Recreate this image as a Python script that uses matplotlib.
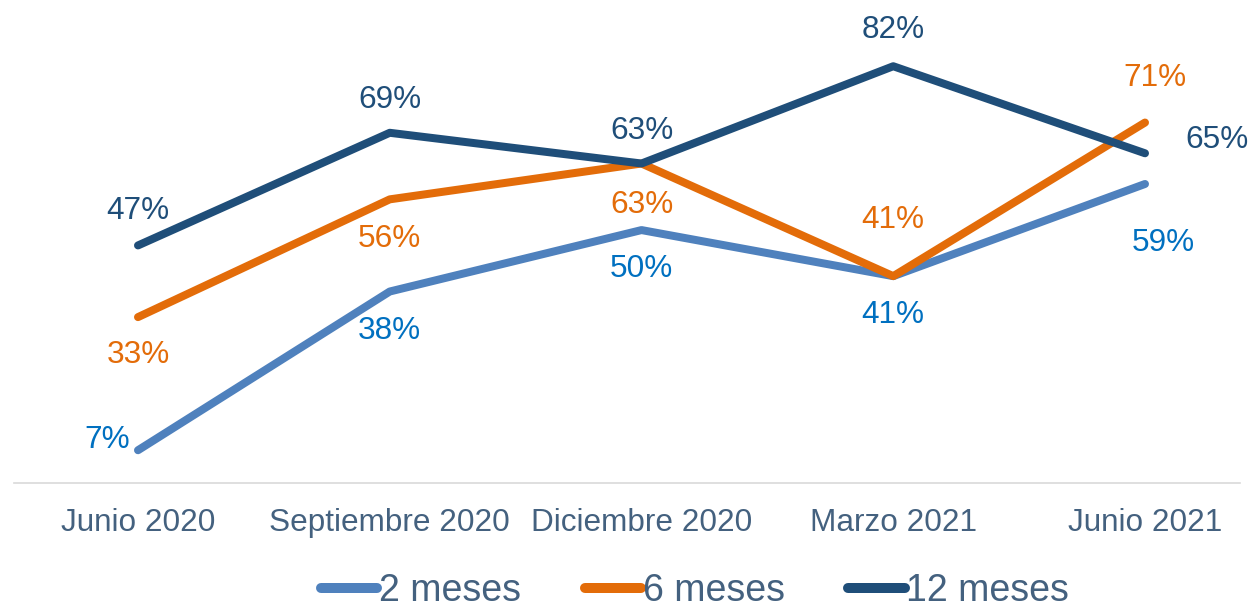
import matplotlib
matplotlib.use("Agg")
import matplotlib.pyplot as plt

categories = ["Junio 2020", "Septiembre 2020", "Diciembre 2020", "Marzo 2021", "Junio 2021"]
series_names = ["2 meses", "6 meses", "12 meses"]
v2 = [7, 38, 50, 41, 59]
v6 = [33, 56, 63, 41, 71]
v12 = [47, 69, 63, 82, 65]
values = [v2, v6, v12]

line_colors = ["#4F81BD", "#E36C09", "#1F4E79"]
label_colors = ["#0070C0", "#E36C09", "#1F4E79"]
text_color = "#44617F"

# label offsets in pixels (dx, dy) relative to point, y up
offsets = [
    [(-8, 10), (0, -39), (0, -39), (0, -39), (18, -59)],
    [(0, -38), (0, -40), (0, -41), (0, 56), (10, 45)],
    [(0, 34), (0, 33), (0, 33), (0, 36), (72, 13)],
]
has = [
    ["right", "center", "center", "center", "center"],
    ["center"] * 5,
    ["center"] * 5,
]

plt.rcParams["font.family"] = ["Liberation Sans", "DejaVu Sans"]

W, H = 1254, 612
fig = plt.figure(figsize=(W / 100, H / 100), dpi=100)
left_px, right_px = 14, 1240
bot_px = 483
top_px = 0
ax = fig.add_axes([left_px / W, (H - bot_px) / H, (right_px - left_px) / W, (bot_px - top_px) / H])

x = list(range(len(categories)))
spacing = (1145 - 138) / 4
ax.set_xlim(-(138 - left_px) / spacing, 4 + (right_px - 1145) / spacing)
ppu = 5.12
ax.set_ylim(0.6, 0.6 + (bot_px - top_px) / ppu)

lw = 8 * 0.72
for i, (name, vals) in enumerate(zip(series_names, values)):
    ax.plot(x, vals, color=line_colors[i], lw=lw, solid_capstyle="round",
            solid_joinstyle="round", label=name, zorder=2 + i)
    for j, v in enumerate(vals):
        dx, dy = offsets[i][j]
        ax.annotate(f"{v}%", (x[j], v), xytext=(dx * 0.72, dy * 0.72),
                    textcoords="offset points", ha=has[i][j], va="center",
                    fontsize=22.7, color=label_colors[i], zorder=10)

for s in ["top", "right", "left"]:
    ax.spines[s].set_visible(False)
ax.spines["bottom"].set_color("#D9D9D9")
ax.spines["bottom"].set_linewidth(1.2)
ax.set_yticks([])
ax.set_xticks(x)
ax.set_xticklabels(categories, fontsize=22.7, color=text_color)
ax.tick_params(axis="x", length=0, pad=18)

leg = fig.legend(loc="center", bbox_to_anchor=(695 / W, 1 - 591 / H),
                 ncol=3, frameon=False, fontsize=27, handlelength=1.5,
                 handletextpad=0.05, columnspacing=1.7, borderpad=0)
for t in leg.get_texts():
    t.set_color(text_color)
for h in leg.get_lines():
    h.set_linewidth(10 * 0.72)
    h.set_solid_capstyle("round")

fig.savefig("out.png", dpi=100)
